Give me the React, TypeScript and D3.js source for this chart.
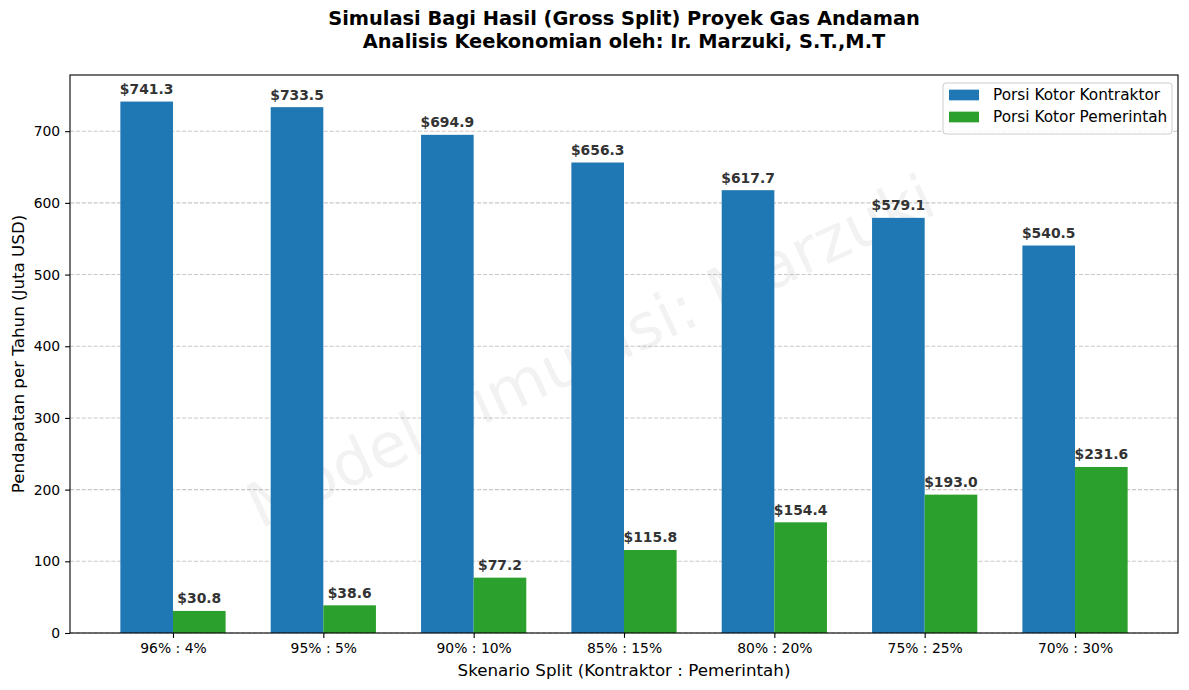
import * as React from "react";
import * as d3 from "d3";

const categories = ["96% : 4%", "95% : 5%", "90% : 10%", "85% : 15%", "80% : 20%", "75% : 25%", "70% : 30%"];
const kontraktor = [741.3, 733.5, 694.9, 656.3, 617.7, 579.1, 540.5];
const pemerintah = [30.8, 38.6, 77.2, 115.8, 154.4, 193.0, 231.6];
const seriesNames = ["Porsi Kotor Kontraktor", "Porsi Kotor Pemerintah"];
const seriesColors = ["#1f77b4", "#2ca02c"];
const yTicks = [0, 100, 200, 300, 400, 500, 600, 700];

const width = 1189;
const height = 690;
const marginLeft = 70;
const marginRight = 11;
const marginTop = 75;
const marginBottom = 57;
const font = "'DejaVu Sans', sans-serif";
const barWidth = 0.35;

const App: React.FC = () => {
  const gx = React.useRef<SVGGElement>(null);
  const gy = React.useRef<SVGGElement>(null);

  const n = categories.length;
  const pad = (n - 1 + 2 * barWidth) * 0.05;
  const x = d3
    .scaleLinear()
    .domain([-barWidth - pad, n - 1 + barWidth + pad])
    .range([marginLeft, width - marginRight]);

  const yMax = d3.max(kontraktor)! * 1.05;
  const y = d3
    .scaleLinear()
    .domain([0, yMax])
    .range([height - marginBottom, marginTop]);

  const series = [kontraktor, pemerintah];
  const bw = x(barWidth) - x(0);

  React.useEffect(() => {
    if (gx.current) {
      const ax = d3
        .axisBottom(x)
        .tickValues(d3.range(n))
        .tickFormat((d) => categories[d as number])
        .tickSizeInner(4.9)
        .tickSizeOuter(0)
        .tickPadding(4.9);
      const g = d3.select(gx.current).call(ax);
      g.select(".domain").remove();
      g.selectAll("text").attr("font-size", 13.9).attr("font-family", font).attr("fill", "#000");
      g.selectAll("line").attr("stroke", "#000").attr("stroke-width", 1.1);
    }
  }, [gx, x]);

  React.useEffect(() => {
    if (gy.current) {
      const ax = d3.axisLeft(y).tickValues(yTicks).tickSizeInner(4.9).tickSizeOuter(0).tickPadding(4.9);
      const g = d3.select(gy.current).call(ax);
      g.select(".domain").remove();
      g.selectAll("text").attr("font-size", 13.9).attr("font-family", font).attr("fill", "#000");
      g.selectAll("line").attr("stroke", "#000").attr("stroke-width", 1.1);
    }
  }, [gy, y]);

  const plotW = width - marginLeft - marginRight;
  const plotH = height - marginTop - marginBottom;
  // watermark position, as a fraction of the plot area
  const cx = marginLeft + plotW * 0.478;
  const cy = marginTop + plotH * 0.53;

  return (
    <svg
      width={width}
      height={height}
      style={{ position: "absolute", left: 0, top: 0, background: "#fff" }}
      fontFamily={font}
    >
      <rect width={width} height={height} fill="#fff" />
      {/* title */}
      <g fontWeight="bold" fontSize={19.4} textAnchor="middle">
        <text x={marginLeft + plotW / 2} y={25}>
          Simulasi Bagi Hasil (Gross Split) Proyek Gas Andaman
        </text>
        <text x={marginLeft + plotW / 2} y={48}>
          Analisis Keekonomian oleh: Ir. Marzuki, S.T.,M.T
        </text>
      </g>

      {/* grid */}
      <g stroke="#b0b0b0" strokeOpacity={0.7} strokeWidth={1.1} strokeDasharray="4.1,1.8">
        {yTicks.map((t) => (
          <line key={t} x1={marginLeft} x2={width - marginRight} y1={y(t)} y2={y(t)} />
        ))}
      </g>

      {/* watermark */}
      <text
        x={cx}
        y={cy}
        transform={`rotate(-25, ${cx}, ${cy})`}
        textAnchor="middle"
        fontSize={62}
        fill="#808080"
        fillOpacity={0.1}
      >
        Model Simulasi: Marzuki
      </text>

      {/* bars */}
      {series.map((vals, si) => (
        <g key={si} fill={seriesColors[si]}>
          {vals.map((v, i) => {
            const x0 = si === 0 ? x(i - barWidth) : x(i);
            return <rect key={i} x={x0} y={y(v)} width={bw} height={y(0) - y(v)} />;
          })}
        </g>
      ))}

      {/* value labels */}
      <g fontWeight="bold" fontSize={13.9} fill="#333" textAnchor="middle">
        {series.map((vals, si) =>
          vals.map((v, i) => {
            const xc = si === 0 ? x(i - barWidth / 2) : x(i + barWidth / 2);
            return (
              <text key={`${si}-${i}`} x={xc} y={y(v) - 7.5}>
                ${v.toFixed(1)}
              </text>
            );
          })
        )}
      </g>

      {/* axes */}
      <g ref={gx} transform={`translate(0,${height - marginBottom})`} />
      <g ref={gy} transform={`translate(${marginLeft},0)`} />
      <rect
        x={marginLeft}
        y={marginTop}
        width={plotW}
        height={plotH}
        fill="none"
        stroke="#000"
        strokeWidth={1.1}
      />

      {/* axis labels */}
      <text x={marginLeft + plotW / 2} y={676} textAnchor="middle" fontSize={16.7}>
        Skenario Split (Kontraktor : Pemerintah)
      </text>
      <text
        transform={`translate(24,${marginTop + plotH / 2}) rotate(-90)`}
        textAnchor="middle"
        fontSize={16.7}
      >
        Pendapatan per Tahun (Juta USD)
      </text>

      {/* legend */}
      <g transform={`translate(${width - marginRight - 235},${marginTop + 8})`}>
        <rect
          width={229}
          height={51}
          rx={3}
          fill="#fff"
          fillOpacity={0.8}
          stroke="#cccccc"
          strokeWidth={1}
        />
        {seriesNames.map((name, i) => (
          <g key={name} transform={`translate(6,${12 + i * 22})`}>
            <rect width={30} height={10.7} y={-5.35} fill={seriesColors[i]} />
            <text x={44} y={5.3} fontSize={15.3}>
              {name}
            </text>
          </g>
        ))}
      </g>
    </svg>
  );
};

export default App;
